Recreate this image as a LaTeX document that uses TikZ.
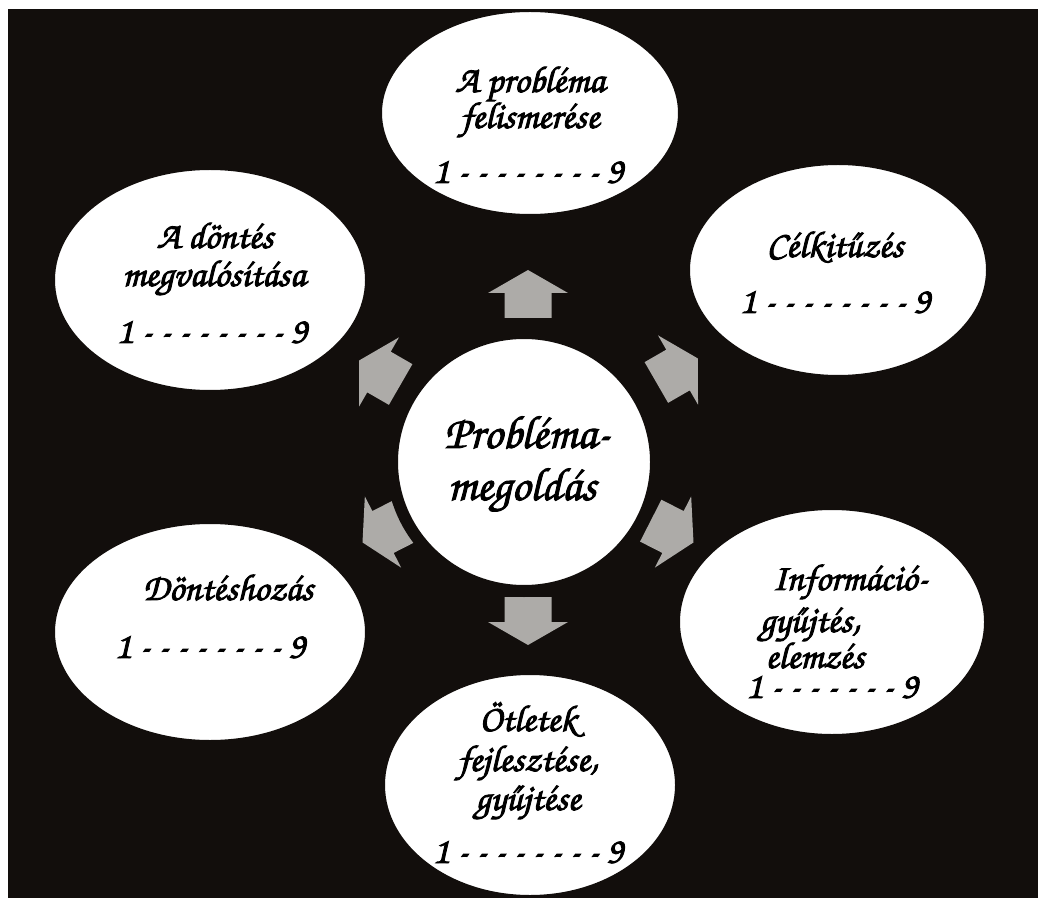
\documentclass[tikz,border=0pt]{standalone}
\usepackage[T1,TU]{fontenc}
\usetikzlibrary{shapes.geometric}
\definecolor{bgblack}{RGB}{18,14,12}
\definecolor{arrowgray}{RGB}{173,171,168}
\newcommand\scrfont[1]{\fontencoding{T1}\fontfamily{pzc}\fontseries{mb}\fontshape{it}\fontsize{#1}{#1}\selectfont\special{pdf:literal direct 2 Tr 0.7 w}}
\newcommand\blockarrow[3]{\fill[arrowgray, shift={(#1,#2)}, rotate=#3] (-25,-23.5) -- (0,-23.5) -- (0,-40) -- (23,0) -- (0,40) -- (0,23.5) -- (-25,23.5) -- cycle;}
\tikzset{
  bubble/.style={ellipse, fill=white, draw=bgblack, line width=9pt, inner sep=0pt},
  lbl/.style={font=\scrfont{28}, text=black, anchor=base, inner sep=0pt},
  biglbl/.style={font=\scrfont{35}, text=black, anchor=base, inner sep=0pt},
}
\begin{document}
\begin{tikzpicture}[x=0.75pt,y=-0.75pt]
\useasboundingbox (0,0) rectangle (1038,898);
\fill[bgblack] (8,9) rectangle (1038,898);
% arrows
\blockarrow{528}{293}{90}
\blockarrow{528}{622}{-90}
\blockarrow{678}{370}{30}
\blockarrow{379}{372}{150}
\blockarrow{673}{532}{-27}
\blockarrow{383}{532}{207}
% bubbles (path radius = white radius + 6px)
\node[bubble, minimum width=231pt, minimum height=160.5pt] (pa) at (530,113) {};
\node[bubble, minimum width=231pt, minimum height=166.5pt] (pc) at (838,270) {};
\node[bubble, minimum width=237pt, minimum height=177pt] (pi) at (832,622) {};
\node[bubble, minimum width=226.5pt, minimum height=174pt] (pb) at (530,785) {};
\node[bubble, minimum width=241.5pt, minimum height=171pt] (pd) at (210,632) {};
\node[bubble, minimum width=241.5pt, minimum height=174pt] (pm) at (210,280) {};
\node[bubble, minimum width=198pt, minimum height=193.5pt] (pp) at (524,462) {};
% white margins
\fill[white] (0,0) rectangle (1038,9);
\fill[white] (0,0) rectangle (8,898);
% texts
\node[lbl] (pa1) at (530,92) {A probl\'ema};
\node[lbl] (pa2) at (530,128) {felismer\'ese};
\node[lbl] (pan) at (528,183) {1 - - - - - - - - 9};
\node[lbl] (pc1) at (835,257) {C\'elkit\H{u}z\'es};
\node[lbl] (pcn) at (835,313) {1 - - - - - - - - 9};
\node[lbl] (pm1) at (215,248) {A d\"ont\'es};
\node[lbl] (pm2) at (214,286) {megval\'os\'{\i}t\'asa};
\node[lbl] (pmn) at (212,343) {1 - - - - - - - - 9};
\node[biglbl] (pp1) at (527,448) {Probl\'ema-};
\node[biglbl] (pp2) at (522,500) {megold\'as};
\node[lbl] (pi1) at (850,590) {Inform\'aci\'o-};
\node[lbl] (pi2) at (810,632) {gy\H{u}jt\'es,};
\node[lbl] (pi3) at (815,668) {elemz\'es};
\node[lbl] (pin) at (832,698) {1 - - - - - - - 9};
\node[lbl] (pd1) at (228,600) {D\"ont\'eshoz\'as};
\node[lbl] (pdn) at (210,658) {1 - - - - - - - - 9};
\node[lbl] (pb1) at (528,731) {\"Otletek};
\node[lbl] (pb2) at (528,771) {fejleszt\'ese,};
\node[lbl] (pb3) at (528,810) {gy\H{u}jt\'ese};
\node[lbl] (pbn) at (528,863) {1 - - - - - - - - 9};
\end{tikzpicture}
\end{document}
